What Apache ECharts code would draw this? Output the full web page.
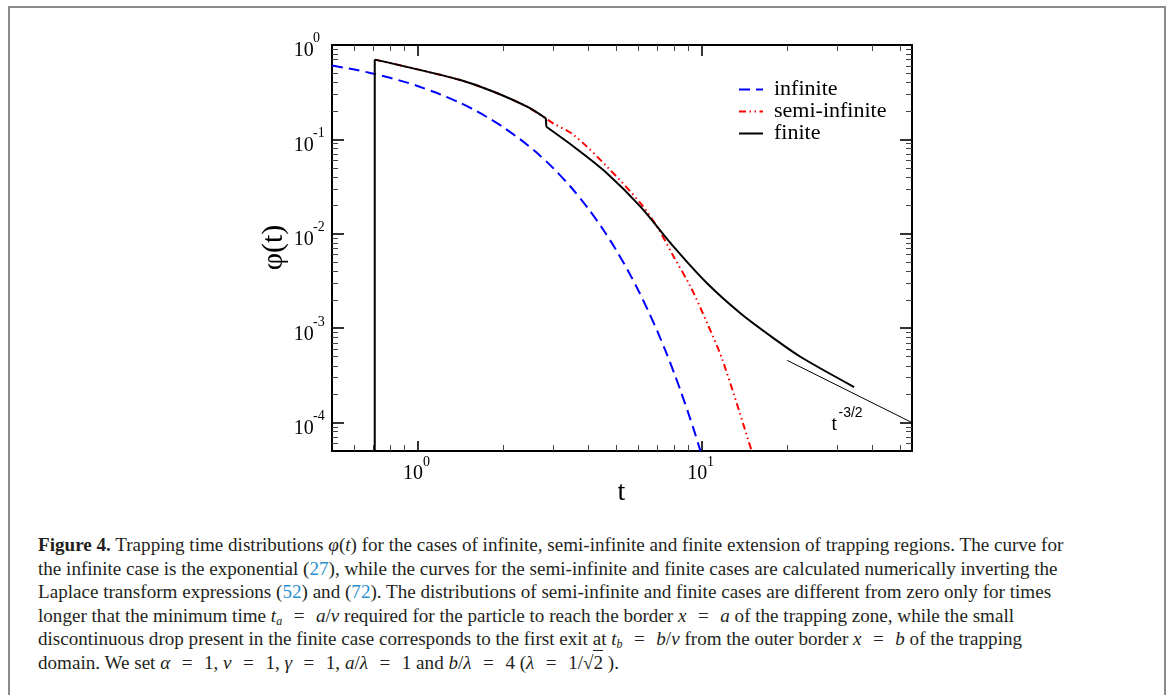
<!DOCTYPE html>
<html>
<head>
    <meta charset="utf-8">
    <title>Trapping time distributions</title>
    <script src="https://cdn.jsdelivr.net/npm/echarts@6.0.0/dist/echarts.min.js"></script>
    <style>
        body { margin: 0; background: #fff; }
        #frame { position: absolute; left: 8px; top: 6px; width: 1158px; height: 700px;
                 border: 2px solid #8c8c8c; box-sizing: border-box; }
        #main { position: absolute; left: 0; top: 0; width: 1171px; height: 520px; }
        #caption { position: absolute; left: 38px; top: 533px; font-family: "Liberation Serif", serif;
                   font-size: 19.1px; line-height: 23.5px; color: #231f20; white-space: nowrap; }
        #caption i { font-style: italic; }
        #caption .ref { color: #2b8fcf; }
        #caption .eq { margin: 0 11.5px; }
        #caption sub { font-size: 12px; line-height: 0; vertical-align: -3px; }
        #caption .rt { border-top: 1px solid #231f20; padding-top: 1px; }
    </style>
</head>
<body>
    <div id="frame"></div>
    <div id="main"></div>
    <div id="caption">
        <div><b>Figure 4.</b> Trapping time distributions <i>φ</i>(<i>t</i>) for the cases of infinite, semi-infinite and finite extension of trapping regions. The curve for</div>
        <div>the infinite case is the exponential (<span class="ref">27</span>), while the curves for the semi-infinite and finite cases are calculated numerically inverting the</div>
        <div>Laplace transform expressions (<span class="ref">52</span>) and (<span class="ref">72</span>). The distributions of semi-infinite and finite cases are different from zero only for times</div>
        <div>longer that the minimum time <i>t<sub>a</sub></i><span class="eq">=</span><i>a</i>/<i>v</i> required for the particle to reach the border <i>x</i><span class="eq">=</span><i>a</i> of the trapping zone, while the small</div>
        <div>discontinuous drop present in the finite case corresponds to the first exit at <i>t<sub>b</sub></i><span class="eq">=</span><i>b</i>/<i>v</i> from the outer border <i>x</i><span class="eq">=</span><i>b</i> of the trapping</div>
        <div>domain. We set <i>α</i><span class="eq">=</span>1, <i>ν</i><span class="eq">=</span>1, <i>γ</i><span class="eq">=</span>1, <i>a</i>/<i>λ</i><span class="eq">=</span>1 and <i>b</i>/<i>λ</i><span class="eq">=</span>4 (<i>λ</i><span class="eq">=</span>1/√<span class="rt">2</span> ).</div>
    </div>

    <script type="text/javascript">

        // values (t, phi(t)), both axes logarithmic
        var tInf = [0.5, 0.6, 0.7, 0.8, 0.9, 1.0, 1.2, 1.4, 1.6, 1.8, 2.0, 2.3, 2.6, 3.0, 3.5, 4.0,
                    4.5, 5.0, 5.5, 6.0, 6.5, 7.0, 7.5, 8.0, 8.5, 9.0, 9.5, 9.9];
        var phiInf = [0.607, 0.549, 0.497, 0.449, 0.407, 0.368, 0.301, 0.247, 0.202, 0.165, 0.135,
                      0.100, 0.0743, 0.0498, 0.0302, 0.0183, 0.0111, 0.00674, 0.00409, 0.00248,
                      0.00150, 0.000912, 0.000553, 0.000335, 0.000203, 0.000123, 0.000075, 0.00005];

        // common part of semi-infinite and finite, from t_a to t_b
        var tHead = [0.707, 1.0, 1.415, 1.853, 2.43, 2.83];
        var phiHead = [0.700, 0.552, 0.425, 0.320, 0.222, 0.167];

        // semi-infinite after t_b
        var tSemi = [2.98, 3.55, 4.65, 6.10, 6.98, 7.98, 9.15, 10.47, 11.83, 15.0];
        var phiSemi = [0.150, 0.111, 0.0512, 0.0210, 0.0118, 0.00569, 0.00273, 0.00112, 0.000465, 0.00005];

        // finite after the drop at t_b
        var tFin = [2.84, 3.55, 4.65, 6.10, 7.98, 10.47, 13.72, 17.98, 22.33, 34.4];
        var phiFin = [0.136, 0.0835, 0.0436, 0.0193, 0.00726, 0.00297, 0.00143, 0.000776, 0.000495, 0.000238];

        // t^(-3/2) guide line
        var tRef = [20, 55];
        var phiRef = [0.000456, 0.0001];

        // axis ticks
        var xMajor = [1, 10];
        var xMinor = [0.6, 0.7, 0.8, 0.9, 2, 3, 4, 5, 6, 7, 8, 9, 20, 30, 40, 50];
        var yMajor = [0.0001, 0.001, 0.01, 0.1, 1];
        var yMinor = [0.00006, 0.00007, 0.00008, 0.00009,
                      0.0002, 0.0003, 0.0004, 0.0005, 0.0006, 0.0007, 0.0008, 0.0009,
                      0.002, 0.003, 0.004, 0.005, 0.006, 0.007, 0.008, 0.009,
                      0.02, 0.03, 0.04, 0.05, 0.06, 0.07, 0.08, 0.09,
                      0.2, 0.3, 0.4, 0.5, 0.6, 0.7, 0.8, 0.9];
        var xRange = [0.5, 55];
        var yRange = [0.00005, 1];

        var lg = function (v) { return Math.log10(v); };
        function pairs(xs, ys) {
            return xs.map(function (x, i) { return [lg(x), lg(ys[i])]; });
        }

        var serif = '"Liberation Serif", "Times New Roman", serif';

        // tick labels "10" and their exponent are drawn by two overlaid axes
        function baseLabel() { return '10'; }
        function expLabel(v) { return String(Math.round(v)); }

        // kind: 'major' | 'minor' ticks, 'base' | 'exp' label-only axes
        function axis(dim, pos, kind) {
            var isX = dim === 'x';
            var range = isX ? xRange : yRange;
            var major = isX ? xMajor : yMajor;
            var minor = isX ? xMinor : yMinor;
            var ax = {
                type: 'value', position: pos, min: lg(range[0]), max: lg(range[1]),
                splitLine: { show: false },
                axisLine: { show: kind === 'major', onZero: false, lineStyle: { color: '#000', width: 2 } },
                axisTick: { show: false },
                axisLabel: { show: false }
            };
            if (kind === 'major' || kind === 'minor') {
                var big = kind === 'major';
                ax.axisTick = {
                    show: true, inside: true,
                    length: big ? (isX ? (pos === 'top' ? 11 : 10) : 12) : 6,
                    customValues: (big ? major : minor).map(lg),
                    lineStyle: { color: big ? '#000' : '#444', width: big ? 1.6 : 1 }
                };
            } else if (kind === 'base') {
                ax.axisLabel = isX
                    ? { show: true, customValues: major.map(lg), formatter: baseLabel, margin: 12.5,
                        fontSize: 20, lineHeight: 20, fontFamily: serif, color: '#000',
                        align: 'center', padding: [0, 9, 0, 0] }
                    : { show: true, customValues: major.map(lg), formatter: baseLabel, margin: 18.2,
                        fontSize: 20, lineHeight: 12.2, fontFamily: serif, color: '#000',
                        align: 'right', verticalAlign: 'top' };
            } else {
                ax.axisLabel = isX
                    ? { show: true, customValues: major.map(lg), formatter: expLabel, margin: 4.7,
                        fontSize: 14, lineHeight: 14, fontFamily: serif, color: '#000',
                        align: 'left', padding: [0, 0, 0, 5.4] }
                    : { show: true, customValues: major.map(lg), formatter: expLabel, margin: 19,
                        fontSize: 14, lineHeight: 12.6, fontFamily: serif, color: '#000',
                        align: 'left', verticalAlign: 'bottom' };
            }
            return ax;
        }

        function finiteLine(data, smooth) {
            return {
                name: 'finite', type: 'line', symbol: 'none', clip: true, smooth: smooth,
                lineStyle: { color: '#000', width: 2 }, itemStyle: { color: '#000' },
                data: data
            };
        }

        var myChart = echarts.init(document.getElementById('main'));

        var head = pairs(tHead, phiHead);
        var fin = pairs(tFin, phiFin);

        var option = {
            animation: false,
            grid: { left: 332, top: 45, width: 580, height: 406, outerBoundsMode: 'none' },
            xAxis: [
                axis('x', 'bottom', 'major'),
                axis('x', 'bottom', 'minor'),
                axis('x', 'bottom', 'base'),
                axis('x', 'bottom', 'exp'),
                axis('x', 'top', 'major'),
                axis('x', 'top', 'minor')
            ],
            yAxis: [
                axis('y', 'left', 'major'),
                axis('y', 'left', 'minor'),
                axis('y', 'left', 'base'),
                axis('y', 'left', 'exp'),
                axis('y', 'right', 'major'),
                axis('y', 'right', 'minor')
            ],
            legend: {
                orient: 'vertical', left: 738, top: 78.5, padding: 0,
                itemWidth: 24, itemHeight: 14, itemGap: 0,
                itemStyle: { opacity: 0 },
                data: ['infinite', 'semi-infinite', 'finite'],
                textStyle: { fontFamily: serif, fontSize: 22, color: '#000', lineHeight: 21,
                             padding: [0, 0, 0, 6] }
            },
            series: [
                {
                    name: 'infinite', type: 'line', symbol: 'none', clip: true, smooth: 0.3,
                    lineStyle: { color: '#0000ff', width: 2, type: [11, 6] },
                    itemStyle: { color: '#0000ff' },
                    data: pairs(tInf, phiInf)
                },
                {
                    name: 'semi-infinite', type: 'line', symbol: 'none', clip: true, smooth: 0.3,
                    lineStyle: { color: '#ff0000', width: 2, type: [7, 3.5, 1.5, 3.5, 1.5, 3.5] },
                    itemStyle: { color: '#ff0000' },
                    data: head.concat(pairs(tSemi, phiSemi))
                },
                // vertical rise at t_a, smooth head, drop at t_b, smooth tail
                finiteLine([[head[0][0], lg(yRange[0]) - 0.2], head[0]], false),
                finiteLine(head, 0.3),
                finiteLine([head[head.length - 1], fin[0]], false),
                finiteLine(fin, 0.3),
                {
                    name: 't^-3/2', type: 'line', symbol: 'none', clip: true,
                    lineStyle: { color: '#000', width: 1 },
                    data: pairs(tRef, phiRef)
                }
            ],
            graphic: [
                {
                    type: 'text', x: 621.5, y: 492.5,
                    style: { text: 't', font: '28px ' + serif, fill: '#000', align: 'center', verticalAlign: 'middle' }
                },
                {
                    type: 'text', x: 274, y: 247.5, rotation: Math.PI / 2,
                    style: { text: 'φ(t)', font: '30px ' + serif, fill: '#000', align: 'center', verticalAlign: 'middle' }
                },
                {
                    type: 'text', x: 831.5, y: 425,
                    style: { text: 't', font: '20px ' + serif, fill: '#000', align: 'left', verticalAlign: 'middle' }
                },
                {
                    type: 'text', x: 838.5, y: 413,
                    style: { text: '-3/2', font: '14px "Liberation Sans", Arial, sans-serif', fill: '#000',
                             align: 'left', verticalAlign: 'middle' }
                }
            ]
        };

        myChart.setOption(option);
    </script>
</body>
</html>
